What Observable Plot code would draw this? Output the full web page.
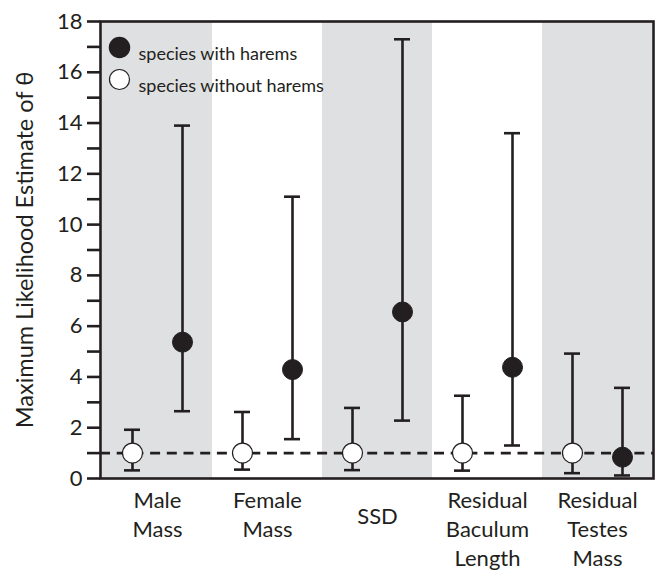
<!DOCTYPE html>
<html>
<head>
<meta charset="utf-8">
<script src="https://cdn.jsdelivr.net/npm/d3@7"></script>
<script src="https://cdn.jsdelivr.net/npm/@observablehq/plot@0.6"></script>
<style>
  html, body { margin: 0; padding: 0; background: #fff; }
  #chart { width: 655px; height: 571px; }
</style>
</head>
<body>
<div id="chart"></div>
<script>
// ---- data ----
const categories = ["Male\nMass", "Female\nMass", "SSD", "Residual\nBaculum\nLength", "Residual\nTestes\nMass"];
const withEst = [5.37, 4.29, 6.56, 4.38, 0.84];
const withLo = [2.65, 1.55, 2.28, 1.30, 0.12];
const withHi = [13.9, 11.1, 17.3, 13.6, 3.57];
const withoutEst = [1.0, 1.0, 1.0, 1.0, 1.0];
const withoutLo = [0.32, 0.35, 0.33, 0.31, 0.21];
const withoutHi = [1.92, 2.62, 2.78, 3.26, 4.92];
const shadedCategories = ["Male\nMass", "SSD", "Residual\nTestes\nMass"];
const majorTicks = [0, 2, 4, 6, 8, 10, 12, 14, 16, 18];
const minorTicks = [1, 3, 5, 7, 9, 11, 13, 15, 17];
const nullValue = [1];
const yLabel = "Maximum Likelihood Estimate of θ";
const legendWith = ["species with harems"];
const legendWithout = ["species without harems"];

const withData = categories.map((c, i) => ({cat: c, est: withEst[i], lo: withLo[i], hi: withHi[i]}));
const withoutData = categories.map((c, i) => ({cat: c, est: withoutEst[i], lo: withoutLo[i], hi: withoutHi[i]}));

const ink = "#231f20";
const band = "#dfe0e2";
const font = "Lato, 'Open Sans', sans-serif";

function errorMarks(data, dx) {
  return [
    Plot.ruleX(data, {x: "cat", y1: "lo", y2: "hi", dx, stroke: ink, strokeWidth: 2.6}),
    Plot.tickY(data, {x: "cat", y: "hi", dx, inset: 47, stroke: ink, strokeWidth: 2.6}),
    Plot.tickY(data, {x: "cat", y: "lo", dx, inset: 47, stroke: ink, strokeWidth: 2.6})
  ];
}

const chart = Plot.plot({
  width: 655,
  height: 571,
  marginLeft: 100,
  marginRight: 2,
  marginTop: 21,
  marginBottom: 93,
  style: {fontFamily: font, fontSize: "22px", color: ink, background: "#fff"},
  x: {domain: categories, padding: 0, axis: null},
  y: {domain: [0, 18], axis: null},
  marks: [
    Plot.cell(shadedCategories, {x: d => d, fill: band}),
    Plot.ruleY(nullValue, {stroke: ink, strokeWidth: 2.6, strokeDasharray: "10,6.7"}),
    ...errorMarks(withoutData, -25),
    ...errorMarks(withData, 25),
    Plot.dot(withoutData, {x: "cat", y: "est", dx: -25, r: 10, fill: "white", stroke: ink, strokeWidth: 1.2}),
    Plot.dot(withData, {x: "cat", y: "est", dx: 25, r: 10, fill: ink, stroke: ink, strokeWidth: 1}),
    Plot.frame({stroke: ink, strokeWidth: 2.6}),
    Plot.axisY({ticks: majorTicks, tickSize: 13, tickPadding: 5, strokeWidth: 2.6, stroke: ink, fill: ink, fontSize: 22, label: null}),
    Plot.axisY({ticks: minorTicks, tickSize: 13, tickFormat: () => "", strokeWidth: 2.6, stroke: ink, label: null}),
    Plot.axisX({ticks: categories.filter(c => c !== "SSD"), tickSize: 0, tickPadding: 9, lineHeight: 1.32, fontSize: 22, fill: ink, label: null}),
    Plot.axisX({ticks: ["SSD"], tickSize: 0, tickPadding: 9, dy: 21, fontSize: 22, fill: ink, label: null}),
    Plot.text([yLabel], {text: d => d, frameAnchor: "left", textAnchor: "middle", rotate: -90, dx: -75, fontSize: 23.5, fill: ink}),
    Plot.dot(legendWith, {frameAnchor: "top-left", dx: 19, dy: 26, r: 10, fill: ink, stroke: ink}),
    Plot.dot(legendWithout, {frameAnchor: "top-left", dx: 19, dy: 58, r: 10, fill: "white", stroke: ink, strokeWidth: 1.2}),
    Plot.text(legendWith, {text: d => d, frameAnchor: "top-left", dx: 38, dy: 26, textAnchor: "start", fontSize: 18, fill: ink}),
    Plot.text(legendWithout, {text: d => d, frameAnchor: "top-left", dx: 38, dy: 58, textAnchor: "start", fontSize: 18, fill: ink})
  ]
});
document.getElementById("chart").appendChild(chart);
</script>
</body>
</html>
